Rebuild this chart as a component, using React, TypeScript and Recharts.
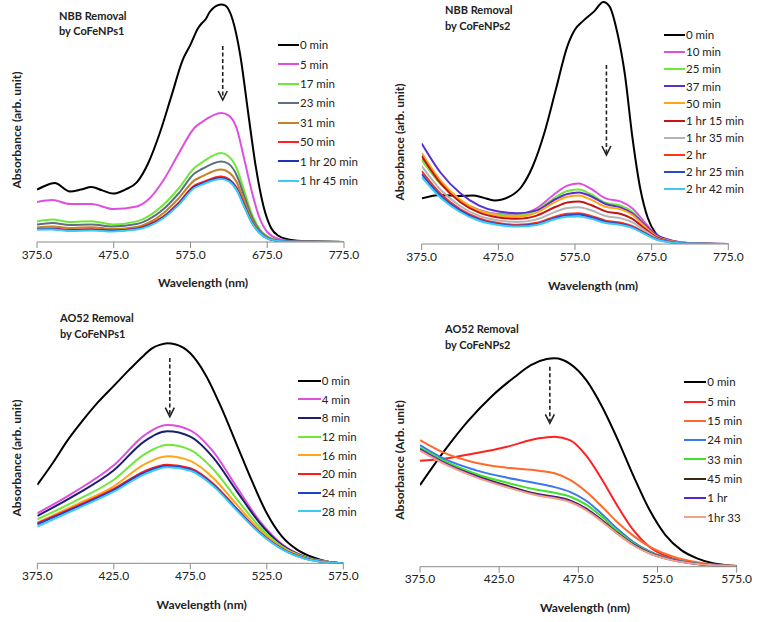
import React from 'react';
import { LineChart, Line, XAxis, YAxis, Legend, ReferenceLine } from 'recharts';

if (typeof document !== 'undefined') document.body.style.margin = '0';

const FONT = 'Lato, "Open Sans", sans-serif';

// ---- NBB removal by CoFeNPs1 ----
const nbb1Wl0 = [375, 385, 398, 418, 432, 446, 460, 474, 490, 505, 520, 535, 550, 565, 575, 585, 590, 595, 600, 615, 620, 630, 640, 650, 660, 670, 680, 690, 700, 720, 775];
const nbb1Min0 = [0.262, 0.28, 0.295, 0.253, 0.262, 0.275, 0.258, 0.242, 0.262, 0.298, 0.395, 0.545, 0.728, 0.912, 0.987, 1.07, 1.095, 1.115, 1.15, 1.187, 1.183, 1.11, 0.93, 0.65, 0.378, 0.18, 0.07, 0.03, 0.015, 0.005, 0];
const nbb1Wl = [375, 395, 418, 446, 474, 505, 520, 540, 560, 580, 590, 615, 625, 635, 645, 655, 665, 675, 690, 710, 775];
const nbb1Min5 = [0.2, 0.21, 0.19, 0.19, 0.165, 0.178, 0.212, 0.31, 0.445, 0.57, 0.6, 0.645, 0.632, 0.57, 0.415, 0.25, 0.12, 0.05, 0.015, 0.004, 0];
const nbb1Min17 = [0.103, 0.112, 0.1, 0.104, 0.088, 0.103, 0.128, 0.187, 0.27, 0.37, 0.398, 0.445, 0.428, 0.37, 0.255, 0.14, 0.065, 0.028, 0.008, 0.002, 0];
const nbb1Min23 = [0.087, 0.095, 0.085, 0.088, 0.078, 0.09, 0.112, 0.165, 0.245, 0.342, 0.365, 0.403, 0.39, 0.335, 0.23, 0.125, 0.058, 0.024, 0.007, 0.002, 0];
const nbb1Min31 = [0.073, 0.078, 0.07, 0.074, 0.065, 0.075, 0.095, 0.145, 0.22, 0.308, 0.328, 0.362, 0.348, 0.3, 0.205, 0.11, 0.052, 0.021, 0.006, 0.001, 0];
const nbb1Min50 = [0.065, 0.068, 0.06, 0.064, 0.058, 0.068, 0.087, 0.128, 0.198, 0.282, 0.298, 0.328, 0.315, 0.272, 0.186, 0.1, 0.047, 0.019, 0.005, 0.001, 0];
const nbb1Min80 = [0.064, 0.065, 0.058, 0.061, 0.056, 0.065, 0.082, 0.124, 0.192, 0.276, 0.292, 0.32, 0.308, 0.265, 0.18, 0.097, 0.046, 0.018, 0.005, 0.001, 0];
const nbb1Min105 = [0.062, 0.062, 0.055, 0.058, 0.053, 0.062, 0.078, 0.12, 0.187, 0.27, 0.287, 0.315, 0.303, 0.26, 0.176, 0.095, 0.045, 0.018, 0.005, 0.001, 0];

// ---- NBB removal by CoFeNPs2 ----
const nbb2Wl0 = [375, 400, 425, 442, 455, 470, 490, 505, 520, 535, 550, 565, 575, 585, 600, 612, 620, 630, 640, 650, 660, 670, 680, 690, 700, 720, 775];
const nbb2Min0 = [0.228, 0.245, 0.24, 0.243, 0.232, 0.218, 0.238, 0.285, 0.39, 0.555, 0.772, 0.988, 1.072, 1.113, 1.163, 1.21, 1.188, 1.06, 0.85, 0.53, 0.28, 0.13, 0.055, 0.025, 0.013, 0.003, 0];
const nbb2Wl = [375, 400, 425, 450, 475, 500, 525, 550, 565, 580, 595, 615, 635, 650, 665, 680, 700, 725, 775];
const nbb2Min10 = [0.425, 0.3, 0.218, 0.17, 0.15, 0.147, 0.178, 0.255, 0.292, 0.303, 0.278, 0.228, 0.212, 0.178, 0.112, 0.05, 0.018, 0.005, 0];
const nbb2Min25 = [0.42, 0.298, 0.215, 0.166, 0.146, 0.142, 0.168, 0.235, 0.265, 0.272, 0.25, 0.206, 0.192, 0.16, 0.1, 0.045, 0.016, 0.004, 0];
const nbb2Min37 = [0.503, 0.355, 0.255, 0.192, 0.162, 0.154, 0.168, 0.225, 0.25, 0.258, 0.24, 0.2, 0.182, 0.152, 0.1, 0.048, 0.018, 0.004, 0];
const nbb2Min50 = [0.455, 0.315, 0.222, 0.167, 0.143, 0.136, 0.157, 0.212, 0.236, 0.242, 0.223, 0.186, 0.173, 0.145, 0.092, 0.042, 0.015, 0.004, 0];
const nbb2Min75 = [0.44, 0.302, 0.21, 0.157, 0.133, 0.126, 0.142, 0.186, 0.207, 0.212, 0.196, 0.163, 0.15, 0.126, 0.08, 0.037, 0.013, 0.003, 0];
const nbb2Min95 = [0.39, 0.27, 0.19, 0.14, 0.118, 0.11, 0.123, 0.162, 0.18, 0.184, 0.17, 0.14, 0.128, 0.108, 0.07, 0.032, 0.011, 0.003, 0];
const nbb2Min120 = [0.365, 0.25, 0.175, 0.128, 0.105, 0.096, 0.106, 0.138, 0.151, 0.154, 0.142, 0.117, 0.106, 0.089, 0.058, 0.027, 0.009, 0.002, 0];
const nbb2Min145 = [0.35, 0.24, 0.168, 0.122, 0.1, 0.091, 0.1, 0.132, 0.144, 0.147, 0.135, 0.111, 0.1, 0.084, 0.055, 0.026, 0.009, 0.002, 0];
const nbb2Min162 = [0.335, 0.23, 0.16, 0.116, 0.095, 0.087, 0.095, 0.125, 0.136, 0.138, 0.127, 0.105, 0.095, 0.08, 0.052, 0.024, 0.008, 0.002, 0];

// ---- AO52 removal by CoFeNPs1 ----
const ao1Wl0 = [375, 385, 395, 405, 415, 425, 435, 445, 450, 455, 460, 465, 475, 485, 495, 505, 515, 525, 535, 545, 555, 565, 575];
const ao1Min0 = [0.392, 0.5, 0.617, 0.717, 0.808, 0.887, 0.967, 1.042, 1.075, 1.092, 1.1, 1.095, 1.05, 0.942, 0.783, 0.6, 0.417, 0.25, 0.133, 0.067, 0.03, 0.008, 0];
const ao1Wl = [375, 400, 425, 445, 460, 475, 490, 505, 520, 535, 550, 565, 575];
const ao1Min4 = [0.25, 0.36, 0.49, 0.64, 0.692, 0.665, 0.558, 0.385, 0.215, 0.095, 0.033, 0.008, 0];
const ao1Min8 = [0.237, 0.342, 0.465, 0.61, 0.66, 0.633, 0.528, 0.365, 0.205, 0.09, 0.032, 0.008, 0];
const ao1Min12 = [0.22, 0.312, 0.418, 0.545, 0.593, 0.567, 0.47, 0.325, 0.185, 0.083, 0.03, 0.007, 0];
const ao1Min16 = [0.203, 0.292, 0.385, 0.495, 0.535, 0.512, 0.427, 0.297, 0.17, 0.077, 0.027, 0.007, 0];
const ao1Min20 = [0.2, 0.283, 0.372, 0.46, 0.493, 0.475, 0.398, 0.277, 0.158, 0.073, 0.025, 0.005, 0];
const ao1Min24 = [0.195, 0.278, 0.366, 0.453, 0.486, 0.468, 0.392, 0.272, 0.155, 0.071, 0.024, 0.005, 0];
const ao1Min28 = [0.183, 0.27, 0.358, 0.445, 0.48, 0.463, 0.387, 0.267, 0.153, 0.07, 0.023, 0.005, 0];

// ---- AO52 removal by CoFeNPs2 ----
const ao2Wl0 = [375, 390, 405, 420, 435, 445, 455, 460, 470, 480, 490, 500, 510, 520, 530, 540, 550, 560, 575];
const ao2Min0 = [0.408, 0.575, 0.725, 0.85, 0.95, 1.008, 1.038, 1.042, 1.013, 0.933, 0.8, 0.633, 0.45, 0.283, 0.158, 0.083, 0.042, 0.017, 0.003];
const ao2Wl = [375, 390, 410, 430, 450, 460, 470, 480, 490, 500, 510, 520, 535, 550, 575];
const ao2Min5 = [0.53, 0.54, 0.567, 0.6, 0.642, 0.65, 0.632, 0.555, 0.435, 0.3, 0.18, 0.098, 0.04, 0.015, 0.002];
const ao2Min15 = [0.633, 0.57, 0.52, 0.495, 0.48, 0.467, 0.433, 0.375, 0.3, 0.22, 0.153, 0.1, 0.05, 0.022, 0.003];
const ao2Min24 = [0.608, 0.54, 0.483, 0.445, 0.415, 0.398, 0.373, 0.33, 0.262, 0.187, 0.122, 0.077, 0.036, 0.016, 0.002];
const ao2Min33 = [0.595, 0.53, 0.465, 0.42, 0.383, 0.37, 0.35, 0.31, 0.248, 0.177, 0.115, 0.072, 0.034, 0.015, 0.002];
const ao2Min45 = [0.585, 0.52, 0.455, 0.405, 0.362, 0.35, 0.33, 0.29, 0.232, 0.167, 0.11, 0.069, 0.033, 0.014, 0.002];
const ao2Min60 = [0.588, 0.52, 0.452, 0.4, 0.358, 0.346, 0.326, 0.286, 0.228, 0.164, 0.108, 0.067, 0.032, 0.013, 0.002];
const ao2Min93 = [0.58, 0.515, 0.448, 0.397, 0.355, 0.342, 0.322, 0.282, 0.225, 0.162, 0.106, 0.066, 0.031, 0.013, 0.002];

const ticksWide = [375, 475, 575, 675, 775];
const ticksNarrow = [375, 425, 475, 525, 575];

type Series = { name: string; color: string; wl: number[]; vals: number[] };

const toPoints = (s: Series) => s.wl.map((w, i) => ({ wl: w, a: s.vals[i] }));

const ArrowShape = (p: any) => {
  const { x1, y1, x2, y2 } = p;
  return (
    <g>
      <line x1={x1} y1={y1} x2={x2} y2={y2 - 2} stroke="#222" strokeWidth={1.6} strokeDasharray="4 2.5" />
      <path d={`M${x2 - 4.5},${y2 - 9} L${x2},${y2} L${x2 + 4.5},${y2 - 9}`} fill="none" stroke="#222" strokeWidth={1.6} />
    </g>
  );
};

// legend keeps the series order (recharts sorts by name otherwise)
function LegendList({ payload, swatch, rowH, order }: any) {
  const items = [...(payload || [])].sort((a: any, b: any) => order.indexOf(a.value) - order.indexOf(b.value));
  return (
    <div>
      {items.map((p: any) => (
        <div key={p.value} style={{ display: 'flex', alignItems: 'center', height: rowH }}>
          <span style={{ display: 'inline-block', width: swatch, height: 2, background: p.color }} />
          <span style={{ marginLeft: 1, fontSize: 11.5, fontFamily: FONT, color: '#222', lineHeight: 1, whiteSpace: 'nowrap' }}>{p.value}</span>
        </div>
      ))}
    </div>
  );
}

type PanelProps = {
  left: number; top: number; width: number; height: number;
  margin: { top: number; right: number; bottom: number; left: number };
  yMax: number; xDomain: [number, number]; ticks: number[];
  series: Series[];
  arrow: [number, number, number];
  legend: { left: number; top: number; swatch: number; rowH: number };
};

function Panel({ left, top, width, height, margin, yMax, xDomain, ticks, series, arrow, legend }: PanelProps) {
  const order = series.map((s) => s.name);
  return (
    <div style={{ position: 'absolute', left, top, width, height }}>
      <LineChart width={width} height={height} margin={margin}>
        <XAxis
          dataKey="wl"
          type="number"
          domain={xDomain}
          ticks={ticks}
          allowDataOverflow
          tickFormatter={(v: number) => v.toFixed(1)}
          height={20}
          stroke="#8a8a8a"
          tick={{ fill: '#222', fontSize: 12, fontFamily: FONT }}
        />
        <YAxis type="number" domain={[0, yMax]} allowDataOverflow width={0} tick={false} tickLine={false} stroke="#8a8a8a" />
        {series.map((s) => (
          <Line
            key={s.name}
            data={toPoints(s)}
            dataKey="a"
            name={s.name}
            type="monotone"
            stroke={s.color}
            strokeWidth={2}
            dot={false}
            activeDot={false}
            isAnimationActive={false}
          />
        ))}
        <ReferenceLine segment={[{ x: arrow[0], y: arrow[1] }, { x: arrow[0], y: arrow[2] }]} shape={ArrowShape} />
        <Legend
          layout="vertical"
          align="center"
          verticalAlign="middle"
          wrapperStyle={{ left: legend.left, top: legend.top }}
          content={(props: any) => <LegendList {...props} order={order} swatch={legend.swatch} rowH={legend.rowH} />}
        />
      </LineChart>
    </div>
  );
}

const Txt = ({ x, y, children, bold = true, size = 12, mode = 'left' }: any) => {
  const transform = mode === 'rot' ? 'translate(-50%,-50%) rotate(-90deg)' : mode === 'center' ? 'translate(-50%,-50%)' : 'translateY(-50%)';
  return (
    <div style={{ position: 'absolute', left: x, top: y, transform, whiteSpace: 'nowrap', fontFamily: FONT, fontSize: size, fontWeight: bold ? 700 : 400, color: '#222', lineHeight: 1 }}>
      {children}
    </div>
  );
};

export default function App() {
  const nbb1: Series[] = [
    { name: '0 min', color: '#000000', wl: nbb1Wl0, vals: nbb1Min0 },
    { name: '5 min', color: '#df4fdf', wl: nbb1Wl, vals: nbb1Min5 },
    { name: '17 min', color: '#6fe83a', wl: nbb1Wl, vals: nbb1Min17 },
    { name: '23 min', color: '#5f6f7f', wl: nbb1Wl, vals: nbb1Min23 },
    { name: '31 min', color: '#c08426', wl: nbb1Wl, vals: nbb1Min31 },
    { name: '50 min', color: '#ff2020', wl: nbb1Wl, vals: nbb1Min50 },
    { name: '1 hr 20 min', color: '#1f33b8', wl: nbb1Wl, vals: nbb1Min80 },
    { name: '1 hr 45 min', color: '#3fcaf5', wl: nbb1Wl, vals: nbb1Min105 },
  ];
  const nbb2: Series[] = [
    { name: '0 min', color: '#000000', wl: nbb2Wl0, vals: nbb2Min0 },
    { name: '10 min', color: '#df4fdf', wl: nbb2Wl, vals: nbb2Min10 },
    { name: '25 min', color: '#6fe83a', wl: nbb2Wl, vals: nbb2Min25 },
    { name: '37 min', color: '#5a2fd0', wl: nbb2Wl, vals: nbb2Min37 },
    { name: '50 min', color: '#ffa51a', wl: nbb2Wl, vals: nbb2Min50 },
    { name: '1 hr 15 min', color: '#c41414', wl: nbb2Wl, vals: nbb2Min75 },
    { name: '1 hr 35 min', color: '#b4b4b4', wl: nbb2Wl, vals: nbb2Min95 },
    { name: '2 hr', color: '#ff3318', wl: nbb2Wl, vals: nbb2Min120 },
    { name: '2 hr 25 min', color: '#2a48cc', wl: nbb2Wl, vals: nbb2Min145 },
    { name: '2 hr 42 min', color: '#3fcaf5', wl: nbb2Wl, vals: nbb2Min162 },
  ];
  const ao1: Series[] = [
    { name: '0 min', color: '#000000', wl: ao1Wl0, vals: ao1Min0 },
    { name: '4 min', color: '#df4fdf', wl: ao1Wl, vals: ao1Min4 },
    { name: '8 min', color: '#1c1f6e', wl: ao1Wl, vals: ao1Min8 },
    { name: '12 min', color: '#6fe83a', wl: ao1Wl, vals: ao1Min12 },
    { name: '16 min', color: '#ffa51a', wl: ao1Wl, vals: ao1Min16 },
    { name: '20 min', color: '#ff1a1a', wl: ao1Wl, vals: ao1Min20 },
    { name: '24 min', color: '#2040d0', wl: ao1Wl, vals: ao1Min24 },
    { name: '28 min', color: '#3fcaf5', wl: ao1Wl, vals: ao1Min28 },
  ];
  const ao2: Series[] = [
    { name: '0 min', color: '#000000', wl: ao2Wl0, vals: ao2Min0 },
    { name: '5 min', color: '#ff2020', wl: ao2Wl, vals: ao2Min5 },
    { name: '15 min', color: '#ff6a2a', wl: ao2Wl, vals: ao2Min15 },
    { name: '24 min', color: '#3a78ec', wl: ao2Wl, vals: ao2Min24 },
    { name: '33 min', color: '#3ee02a', wl: ao2Wl, vals: ao2Min33 },
    { name: '45 min', color: '#3a2a12', wl: ao2Wl, vals: ao2Min45 },
    { name: '1 hr', color: '#5a22d6', wl: ao2Wl, vals: ao2Min60 },
    { name: '1hr 33', color: '#f4a088', wl: ao2Wl, vals: ao2Min93 },
  ];

  return (
    <div style={{ position: 'relative', width: 758, height: 622, background: '#fff', overflow: 'hidden' }}>
      <Panel left={0} top={0} width={379} height={300} margin={{ top: 2, right: 35, bottom: 38, left: 37 }}
        yMax={1.2} xDomain={[375, 775]} ticks={ticksWide} series={nbb1} arrow={[617, 0.98, 0.71]}
        legend={{ left: 278, top: 35.3, swatch: 21, rowH: 19.4 }} />
      <Panel left={379} top={0} width={379} height={300} margin={{ top: 0, right: 29.7, bottom: 36, left: 42.7 }}
        yMax={1.22} xDomain={[375, 775]} ticks={ticksWide} series={nbb2} arrow={[616, 0.895, 0.445]}
        legend={{ left: 285, top: 26.5, swatch: 21, rowH: 17.1 }} />
      <Panel left={0} top={300} width={379} height={322} margin={{ top: 41.3, right: 35.7, bottom: 38.7, left: 37.3 }}
        yMax={1.11} xDomain={[375, 575]} ticks={ticksNarrow} series={ao1} arrow={[461.6, 1.027, 0.733]}
        legend={{ left: 297.7, top: 71.3, swatch: 23, rowH: 18.7 }} />
      <Panel left={379} top={300} width={379} height={322} margin={{ top: 41.7, right: 21.3, bottom: 35.3, left: 41 }}
        yMax={1.125} xDomain={[375, 575]} ticks={ticksNarrow} series={ao2} arrow={[457, 1.0, 0.717]}
        legend={{ left: 305.3, top: 72.6, swatch: 22, rowH: 19.3 }} />

      <Txt x={59} y={15} size={11}>NBB Removal</Txt>
      <Txt x={59} y={30} size={11}>by CoFeNPs1</Txt>
      <Txt x={445} y={9.3} size={11}>NBB Removal</Txt>
      <Txt x={445} y={25} size={11}>by CoFeNPs2</Txt>
      <Txt x={60} y={317.3} size={11}>AO52 Removal</Txt>
      <Txt x={60} y={333.3} size={11}>by CoFeNPs1</Txt>
      <Txt x={445} y={328.3} size={11}>AO52 Removal</Txt>
      <Txt x={445} y={344.3} size={11}>by CoFeNPs2</Txt>

      <Txt x={17} y={130} mode="rot">Absorbance (arb. unit)</Txt>
      <Txt x={400} y={141.7} mode="rot">Absorbance (arb. unit)</Txt>
      <Txt x={16.7} y={458} mode="rot">Absorbance (arb. unit)</Txt>
      <Txt x={400} y={460} mode="rot">Absorbance (Arb. unit)</Txt>

      <Txt x={203} y={283} mode="center">Wavelength (nm)</Txt>
      <Txt x={593} y={286} mode="center">Wavelength (nm)</Txt>
      <Txt x={201.7} y={605} mode="center">Wavelength (nm)</Txt>
      <Txt x={585} y={608.3} mode="center">Wavelength (nm)</Txt>
    </div>
  );
}
